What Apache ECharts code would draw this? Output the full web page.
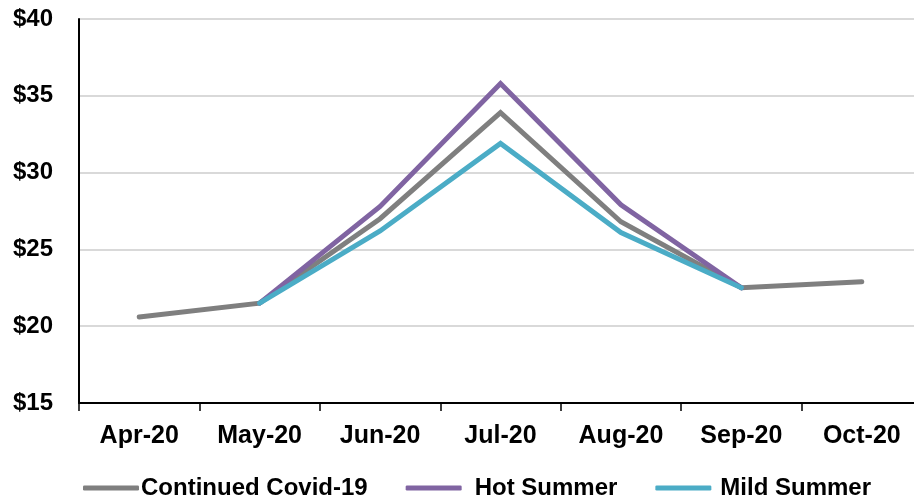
<!DOCTYPE html>
<html>
<head>
<meta charset="utf-8">
<title>Monthly price scenarios</title>
<script src="https://cdn.jsdelivr.net/npm/echarts@6/dist/echarts.min.js"></script>
<style>
  html, body { margin: 0; padding: 0; background: #fff; }
  #chart { width: 914px; height: 501px; }
</style>
</head>
<body>
<div id="chart"></div>
<script>
// Months on the horizontal axis
const months = ['Apr-20', 'May-20', 'Jun-20', 'Jul-20', 'Aug-20', 'Sep-20', 'Oct-20'];

// Price per scenario ($); scenarios only diverge between May and Sep
const continuedCovid = [20.6, 21.5, 27.0, 33.9, 26.8, 22.5, 22.9];
const hotSummer      = [null, 21.5, 27.8, 35.8, 27.9, 22.5, null];
const mildSummer     = [null, 21.5, 26.2, 31.9, 26.1, 22.5, null];

const seriesNames = ['Continued Covid-19', 'Hot Summer', 'Mild Summer'];

// Value axis range
const yMin = 15, yMax = 40, yStep = 5;

const colors = ['#7f7f7f', '#8064a2', '#4bacc6'];
const font = '"Liberation Sans", Arial, sans-serif';

const chart = echarts.init(document.getElementById('chart'), null, { renderer: 'canvas' });

function lineSeries(name, data, color) {
  return {
    name: name,
    type: 'line',
    data: data,
    symbol: 'none',
    connectNulls: false,
    lineStyle: { color: color, width: 5, cap: 'round', join: 'miter' },
    itemStyle: { color: color },
    emphasis: { disabled: true }
  };
}

// Gap between each legend swatch and its label
const legendTextPad = [-3, 8, 4];

chart.setOption({
  animation: false,
  backgroundColor: '#ffffff',
  color: colors,
  // plot runs slightly past the right edge of the canvas
  grid: { left: 79, top: 19, width: 843, height: 384, containLabel: false, outerBoundsMode: 'none' },
  xAxis: {
    type: 'category',
    data: months,
    boundaryGap: true,
    axisLine: { show: true, lineStyle: { color: '#000', width: 2 } },
    axisTick: { show: true, length: 8, alignWithLabel: false, lineStyle: { color: '#000', width: 1.5 } },
    axisLabel: { color: '#000', fontFamily: font, fontWeight: 'bold', fontSize: 25, margin: 21 },
    splitLine: { show: false }
  },
  yAxis: {
    type: 'value',
    min: yMin,
    max: yMax,
    interval: yStep,
    axisLine: { show: true, lineStyle: { color: '#000', width: 2 } },
    axisTick: { show: false },
    axisLabel: {
      color: '#000', fontFamily: font, fontWeight: 'bold', fontSize: 24, margin: 26,
      formatter: v => '$' + v
    },
    splitLine: { show: true, lineStyle: { color: '#d9d9d9', width: 2 } }
  },
  legend: {
    data: seriesNames.map((n, i) => ({ name: n, textStyle: { padding: [0, 0, 0, legendTextPad[i]] } })),
    left: 83,
    top: 476,
    padding: 0,
    itemWidth: 56,
    itemHeight: 5,
    itemGap: 38,
    icon: 'roundRect',
    textStyle: { color: '#000', fontFamily: font, fontWeight: 'bold', fontSize: 24 }
  },
  series: [
    lineSeries(seriesNames[0], continuedCovid, colors[0]),
    lineSeries(seriesNames[1], hotSummer, colors[1]),
    lineSeries(seriesNames[2], mildSummer, colors[2])
  ]
});
</script>
</body>
</html>
